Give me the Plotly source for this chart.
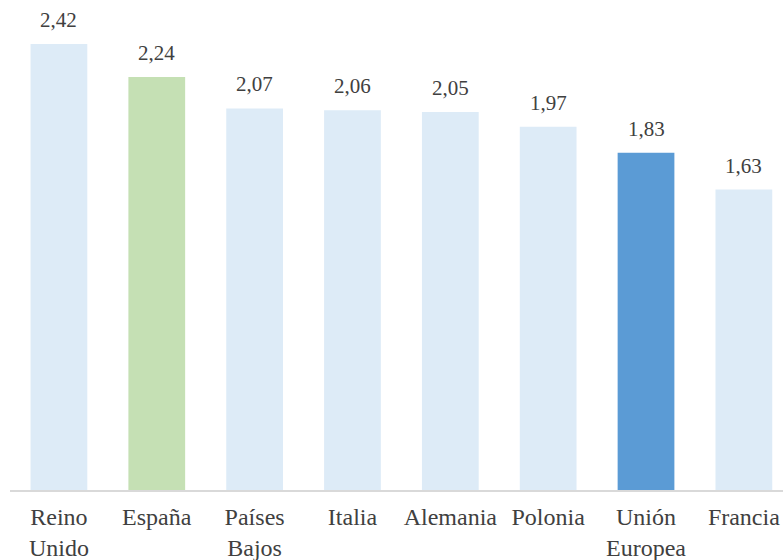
import plotly.graph_objects as go

categories = ["Reino<br>Unido", "España", "Países<br>Bajos", "Italia",
              "Alemania", "Polonia", "Unión<br>Europea", "Francia"]
values = [2.42, 2.24, 2.07, 2.06, 2.05, 1.97, 1.83, 1.63]
bar_colors = ["#DDEBF7", "#C5E0B4", "#DDEBF7", "#DDEBF7",
              "#DDEBF7", "#DDEBF7", "#5B9BD5", "#DDEBF7"]

text_color = "#404040"
serif = "Liberation Serif"

fig = go.Figure(
    go.Bar(
        x=categories,
        y=values,
        marker=dict(color=bar_colors, line=dict(width=0)),
        hoverinfo="skip",
    )
)

# value labels above each bar, written with a decimal comma
for c, v in zip(categories, values):
    fig.add_annotation(
        x=c, y=v, text=f"{v:.2f}".replace(".", ","),
        showarrow=False, yanchor="bottom", yshift=10,
        font=dict(family=serif, size=21, color=text_color),
    )

fig.update_layout(
    width=783, height=560,
    font=dict(family=serif),
    margin=dict(l=10, r=0, t=0, b=70),
    paper_bgcolor="white", plot_bgcolor="white",
    bargap=0.42,
    showlegend=False,
    xaxis=dict(
        range=[-0.5, 7.4],
        showline=True, linecolor="#D9D9D9", linewidth=1.5,
        ticks="", ticklabelstandoff=4,
        tickfont=dict(family=serif, size=24, color=text_color),
        showgrid=False,
    ),
    yaxis=dict(
        range=[0, 2.658],
        visible=False, showgrid=False, zeroline=False,
    ),
)

fig.write_html("out.html")
